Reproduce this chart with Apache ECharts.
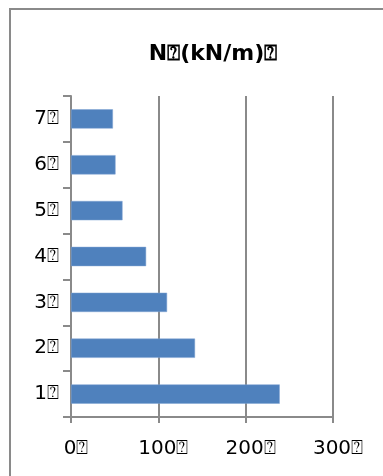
<!DOCTYPE html>
<html>
<head>
<meta charset="utf-8">
<style type="text/css">
html, body {margin: 0; padding: 0; background: #fff; overflow: hidden;}
.frame {position: absolute; left: 9px; top: 8px; width: 420px; height: 520px; border: 2px solid #8a8a8a;}
#myChart {position: absolute; left: 0; top: 0; width: 383px; height: 476px;}
</style>
<script src="https://cdn.jsdelivr.net/npm/echarts@6/dist/echarts.min.js"></script>
</head>
<body>
<div class="frame"></div>
<div id="myChart"></div>
<script>
// 数据
var titleText = 'N\u2370(kN/m)\u2370';
var categories = ['1\u2370', '2\u2370', '3\u2370', '4\u2370', '5\u2370', '6\u2370', '7\u2370'];
var values = [239, 142, 110, 86, 59, 51, 48];
var xTicks = ['0\u2370', '100\u2370', '200\u2370', '300\u2370'];

var gray = '#8a8a8a';
var options = {
    animation: false,
    title: {
        text: titleText,
        left: 208,
        textAlign: 'center',
        top: 38,
        textStyle: {fontFamily: 'DejaVu Sans', fontSize: 22, fontWeight: 'bold', color: '#000'}
    },
    grid: {left: 71, right: 50, top: 96, bottom: 59, containLabel: false},
    xAxis: {
        type: 'value',
        min: 0,
        max: 300,
        interval: 100,
        axisLine: {show: true, lineStyle: {color: gray, width: 2}},
        axisTick: {show: true, length: 6, lineStyle: {color: gray, width: 2}},
        splitLine: {show: true, lineStyle: {color: gray, width: 2}},
        axisLabel: {
            margin: 22,
            padding: [0, 0, 0, 10],
            fontFamily: 'DejaVu Sans', fontSize: 20, color: '#000',
            formatter: function (v) { return xTicks[Math.round(v / 100)]; }
        }
    },
    yAxis: {
        type: 'category',
        data: categories,
        axisLine: {show: true, lineStyle: {color: gray, width: 2}},
        axisTick: {show: true, length: 8, lineStyle: {color: gray, width: 2}},
        axisLabel: {margin: 12, fontFamily: 'DejaVu Sans', fontSize: 20, color: '#000'}
    },
    series: [{
        type: 'bar',
        data: values,
        barCategoryGap: '58%',
        itemStyle: {color: '#4f81bd', borderColor: '#7ea3d3', borderWidth: 0.5}
    }]
};
var myChart = echarts.init(document.getElementById('myChart'));
myChart.setOption(options);
</script>
</body>
</html>
